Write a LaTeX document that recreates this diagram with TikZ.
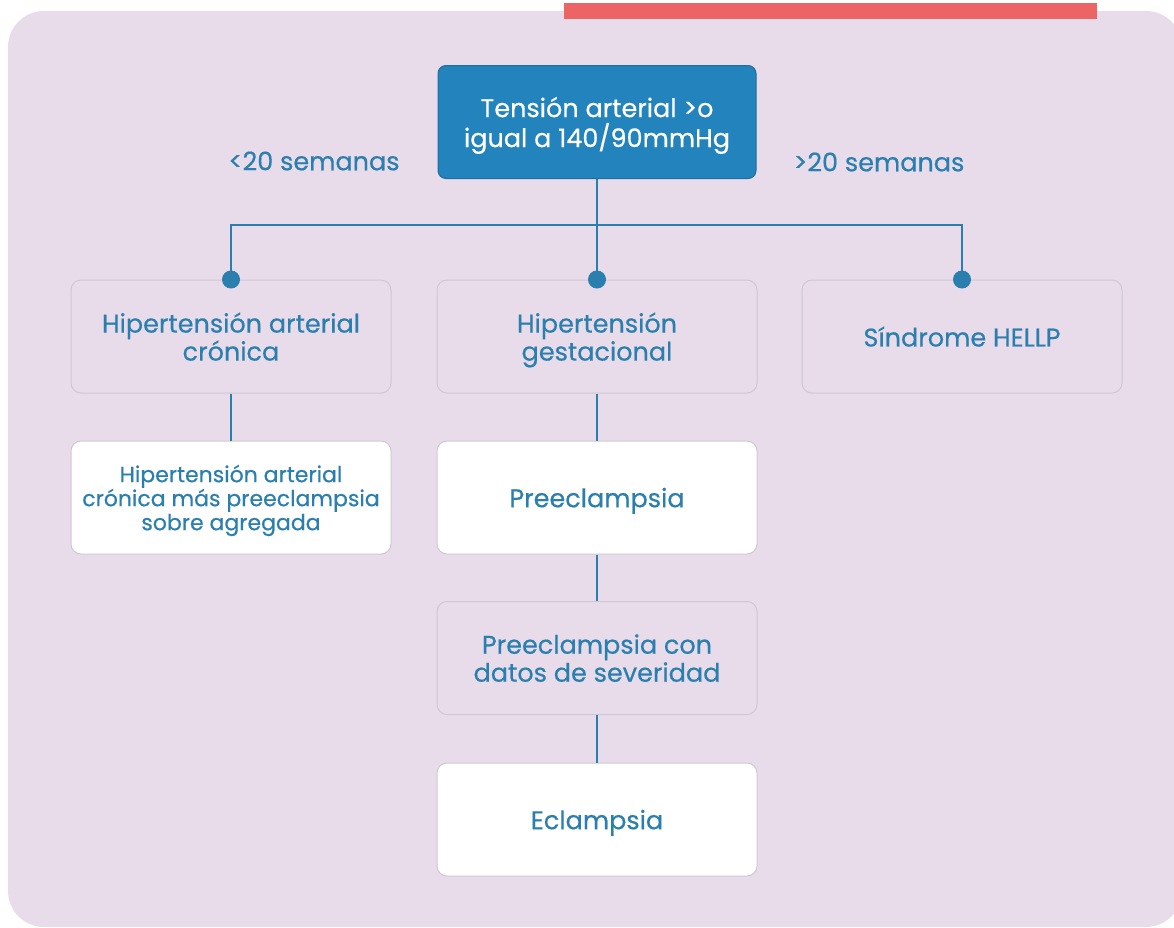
\documentclass[tikz,border=0pt]{standalone}
\usepackage{fontspec}
\setmainfont{Poppins}[FakeBold=0.5]
\definecolor{panel}{HTML}{E9DCEA}
\definecolor{bar}{HTML}{EC6464}
\definecolor{ink}{HTML}{2A7FAE}
\definecolor{topfill}{HTML}{2383BC}
\definecolor{topedge}{HTML}{1B6E9E}
\definecolor{edge}{HTML}{CEC8D2}
\begin{document}
\begin{tikzpicture}[x=1pt,y=-1pt,
  box/.style={draw=edge, line width=1pt, rounded corners=10pt, minimum width=320pt, minimum height=113pt, align=center, text=ink, font=\fontsize{25.5}{28}\selectfont, inner sep=0pt, text depth=-3pt},
  openbox/.style={box, fill=panel},
  whitebox/.style={box, fill=white},
  topbox/.style={box, draw=topedge, fill=topfill, text=white, minimum width=318pt, rounded corners=8pt, font=\fontsize{25.5}{30}\selectfont, text depth=0pt},
  smalltext/.style={font=\fontsize{22}{24}\selectfont},
  link/.style={draw=ink, line width=2.5pt},
  dotmark/.style={circle, fill=ink, minimum size=18pt, inner sep=0pt},
  lab/.style={text=ink, font=\fontsize{25.5}{28}\selectfont, inner sep=0pt}]
\useasboundingbox (0,0) rectangle (1174,927);
\fill[panel, rounded corners=36pt] (8,11) rectangle (1182,927);
\fill[bar] (564,3) rectangle (1097,19);

\node[topbox] (top) at (597,122) {Tensión arterial >o\\igual a 140/90mmHg};
\node[lab] (lt) at (314,161) {<20 semanas};
\node[lab] (gt) at (879,162) {>20 semanas};

\node[openbox] (hac) at (231,336.5) {Hipertensión arterial\\crónica};
\node[openbox] (hg) at (597,336.5) {Hipertensión\\gestacional};
\node[openbox] (hellp) at (962,336.5) {Síndrome HELLP};

\node[whitebox, smalltext] (hacp) at (231,497.5) {Hipertensión arterial\\crónica más preeclampsia\\sobre agregada};
\node[whitebox] (pre) at (597,497.5) {Preeclampsia};
\node[openbox] (pcds) at (597,658) {Preeclampsia con\\datos de severidad};
\node[whitebox] (ecl) at (597,819.5) {Eclampsia};

\coordinate (j) at (597,225);
\draw[link] (top.south) -- (hg.north);
\draw[link] (hac.north) |- (j) -| (hellp.north);
\draw[link] (hac.south) -- (hacp.north);
\draw[link] (hg.south) -- (pre.north);
\draw[link] (pre.south) -- (pcds.north);
\draw[link] (pcds.south) -- (ecl.north);

\node[dotmark] (d1) at (hac.north) {};
\node[dotmark] (d2) at (hg.north) {};
\node[dotmark] (d3) at (hellp.north) {};
\end{tikzpicture}
\end{document}
